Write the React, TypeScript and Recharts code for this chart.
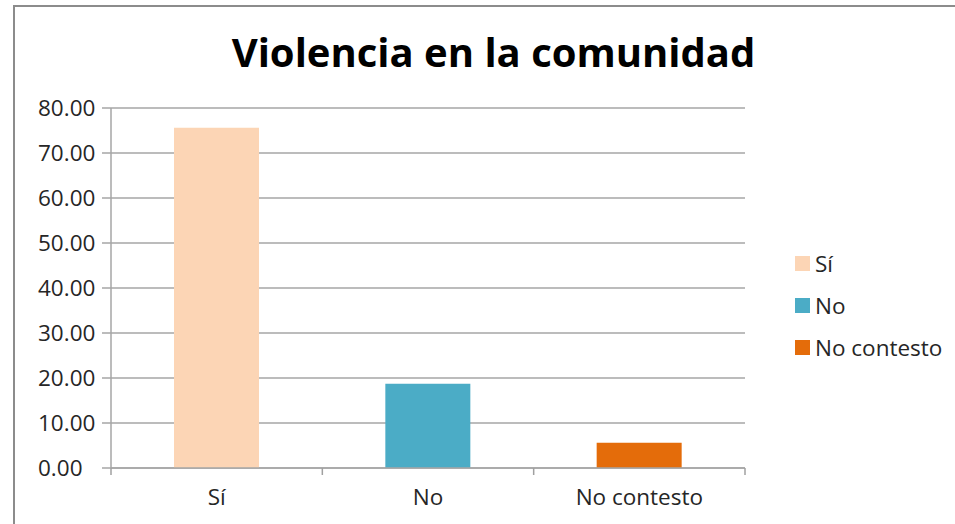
import { BarChart, Bar, XAxis, YAxis, CartesianGrid, Legend, Cell } from 'recharts'

const categories = ['Sí', 'No', 'No contesto']
const values = [75.6, 18.7, 5.6]
const colors = ['#FCD5B5', '#4BACC6', '#E46C0A']
const yTicks = [0, 10, 20, 30, 40, 50, 60, 70, 80]

const data = categories.map((name, i) => ({ name, value: values[i] }))

const FONT = '"Open Sans", "Noto Sans", sans-serif'
const W = 955
const H = 524
const BAND = (745 - 111) / categories.length

function YTick(props: any) {
  const { y, payload } = props
  return (
    <text x={38} y={y} dy={8} textAnchor="start" fontSize={22.5} fill="#262626" fontFamily={FONT}>
      {Number(payload.value).toFixed(2)}
    </text>
  )
}

function XTick(props: any) {
  const { x, y, payload, index } = props
  return (
    <g>
      {index === 0 && <line x1={x - BAND / 2} x2={x - BAND / 2} y1={y} y2={y + 7} stroke="#a0a0a0" strokeWidth={1.5} />}
      <line x1={x + BAND / 2} x2={x + BAND / 2} y1={y} y2={y + 7} stroke="#a0a0a0" strokeWidth={1.5} />
      <text x={x} y={y + 37} textAnchor="middle" fontSize={22.5} fill="#262626" fontFamily={FONT}>
        {payload.value}
      </text>
    </g>
  )
}

function LegendBox() {
  return (
    <div style={{ paddingLeft: 50, fontFamily: FONT, fontSize: 22.5, color: '#262626' }}>
      {categories.map((c, i) => (
        <div key={c} style={{ height: 42, display: 'flex', alignItems: 'center', whiteSpace: 'nowrap' }}>
          <span style={{ width: 15, height: 15, background: colors[i], display: 'inline-block', marginRight: 5 }} />
          {c}
        </div>
      ))}
    </div>
  )
}

export default function App() {
  return (
    <div style={{ position: 'relative', width: W, height: H, background: '#fff' }}>
      <style>{`body{margin:0;background:#fff}`}</style>
      <div
        style={{
          position: 'absolute',
          left: 13,
          top: 5,
          right: 0,
          bottom: 0,
          borderLeft: '2px solid #8c8c8c',
          borderTop: '2px solid #8c8c8c',
        }}
      />
      <div
        style={{
          position: 'absolute',
          left: 0,
          width: W,
          top: 24,
          textAlign: 'center',
          paddingLeft: 32,
          boxSizing: 'border-box',
          fontFamily: FONT,
          fontWeight: 700,
          fontSize: 40,
          lineHeight: 'normal',
          color: '#000',
        }}
      >
        Violencia en la comunidad
      </div>
      <div style={{ position: 'absolute', left: 0, top: 0 }}>
        <BarChart width={W} height={H} data={data} margin={{ top: 108, right: 0, left: 0, bottom: 16 }}>
          <CartesianGrid vertical={false} stroke="#a6a6a6" strokeWidth={1.5} />
          <XAxis
            dataKey="name"
            height={40}
            tickLine={false}
            tickSize={0}
            tickMargin={0}
            axisLine={{ stroke: '#a6a6a6', strokeWidth: 1.5 }}
            tick={<XTick />}
            interval={0}
          />
          <YAxis
            width={111}
            domain={[0, 80]}
            ticks={yTicks}
            interval={0}
            tickSize={9}
            tickLine={{ stroke: '#a6a6a6', strokeWidth: 1.5 }}
            axisLine={{ stroke: '#a6a6a6', strokeWidth: 1.5 }}
            tick={<YTick />}
          />
          <Legend
            layout="vertical"
            align="right"
            verticalAlign="middle"
            wrapperStyle={{ width: 210, top: 242 }}
            content={<LegendBox />}
          />
          <Bar dataKey="value" barSize={85} isAnimationActive={false}>
            {data.map((d, i) => (
              <Cell key={d.name} fill={colors[i]} />
            ))}
          </Bar>
        </BarChart>
      </div>
    </div>
  )
}
